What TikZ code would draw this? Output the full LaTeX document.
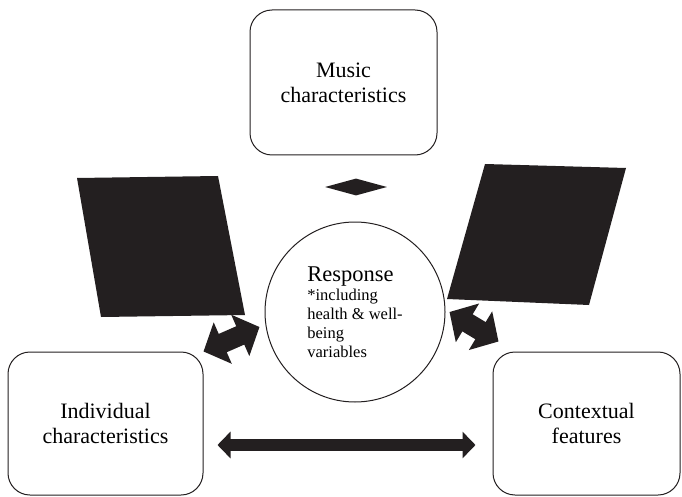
\documentclass[tikz,border=0pt]{standalone}
\usepackage{fontspec}
\setmainfont{Liberation Serif}
\usetikzlibrary{arrows.meta,shapes.geometric}

\definecolor{inkblack}{RGB}{35,31,32}

\tikzset{
  factorbox/.style={draw=inkblack, line width=1pt, rounded corners=22pt,
    align=center, inner sep=0pt, font=\fontsize{22}{25}\selectfont},
  slab/.style={fill=inkblack},
  shortdbl/.style={draw=inkblack, line width=20pt,
    {Triangle[width=44pt,length=21pt]}-{Triangle[width=44pt,length=21pt]}},
  longdbl/.style={draw=inkblack, line width=12pt,
    {Triangle[width=26pt,length=13pt]}-{Triangle[width=26pt,length=13pt]}}
}

\begin{document}
\begin{tikzpicture}[x=1pt,y=-1pt]
  \useasboundingbox (0,0) rectangle (682,497);

  % boxes
  \node[factorbox, minimum width=187pt, minimum height=145pt] (music) at (343.5,82.5) {Music\\characteristics};
  \node[factorbox, minimum width=195pt, minimum height=143pt] (indiv) at (105.5,423.5) {Individual\\characteristics};
  \node[factorbox, minimum width=187pt, minimum height=143pt] (context) at (586.5,423.5) {Contextual\\features};

  % response in the middle
  \node[circle, draw=inkblack, line width=1pt, minimum size=180pt, inner sep=0pt, align=left,
        font=\fontsize{16.5}{19}\selectfont] (resp) at (355,312)
        {{\fontsize{22.5}{22}\selectfont Response}\\*including\\health \& well-\\being\\variables};

  % black slabs
  \fill[slab] (77,178) -- (218,176) -- (245,315) -- (101,317) -- cycle;
  \fill[slab] (485,164) -- (626,168) -- (589,305) -- (447,299) -- cycle;

  % arrows
  \node[diamond, fill=inkblack, inner sep=0pt, minimum width=62pt, minimum height=17pt] (musicarrow) at (356,187) {};
  \draw[shortdbl] (indiv.north east) -- ([xshift=-5pt,yshift=-15pt]resp.west);
  \draw[shortdbl] ([xshift=4pt]resp.east) -- ([xshift=6pt,yshift=10pt]context.north west);
  \draw[longdbl] ([xshift=14pt,yshift=-21.5pt]indiv.east) -- ([xshift=-17pt,yshift=-21.5pt]context.west);
\end{tikzpicture}
\end{document}
